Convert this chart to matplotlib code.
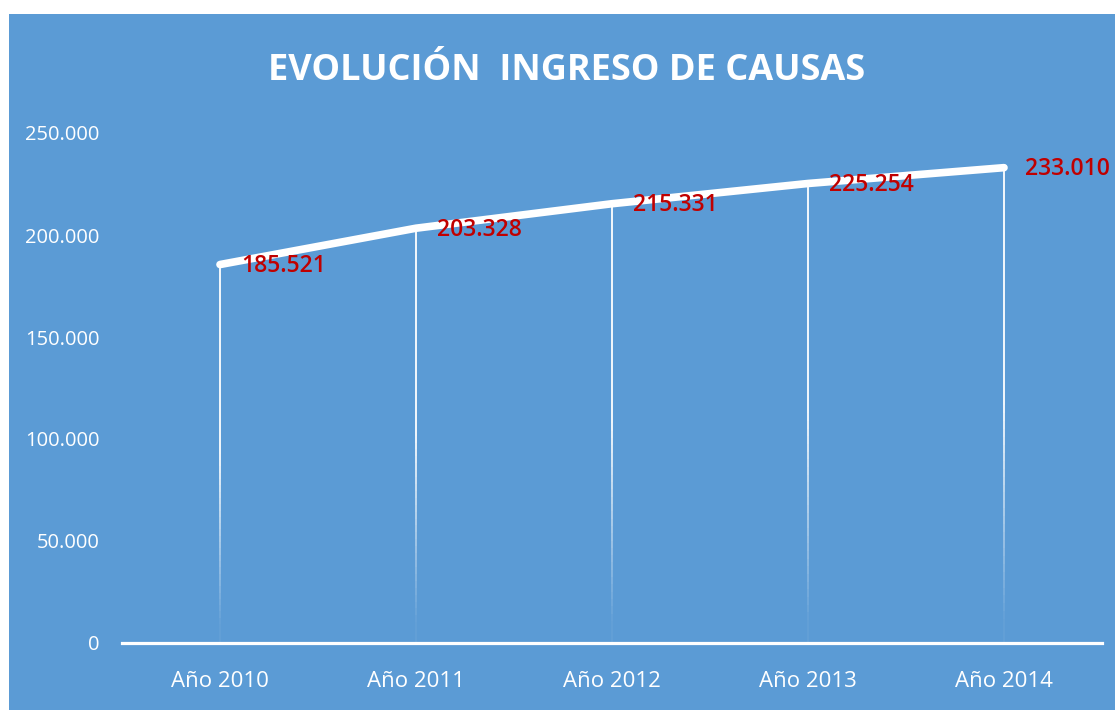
import matplotlib
matplotlib.use("Agg")
import matplotlib.pyplot as plt
import numpy as np
from matplotlib.patches import Rectangle
from matplotlib.collections import LineCollection

categories = ["Año 2010", "Año 2011", "Año 2012", "Año 2013", "Año 2014"]
values = [185521, 203328, 215331, 225254, 233010]
value_labels = ["185.521", "203.328", "215.331", "225.254", "233.010"]
y_ticks = [0, 50000, 100000, 150000, 200000, 250000]
y_tick_labels = ["0", "50.000", "100.000", "150.000", "200.000", "250.000"]
title = "EVOLUCIÓN  INGRESO DE CAUSAS"

W, H = 1115, 710
BLUE = "#5B9BD5"
RED = "#C00000"

fig = plt.figure(figsize=(W / 100, H / 100), dpi=100, facecolor="white")
fig.patches.append(Rectangle((9 / W, 0), 1 - 9 / W, (H - 14) / H,
                             transform=fig.transFigure, facecolor=BLUE,
                             edgecolor="none", zorder=-10))

ax = fig.add_axes([122 / W, (H - 643) / H, (1102 - 122) / W, (643 - 133) / H])
ax.set_zorder(5)
ax.set_facecolor("none")
x = np.arange(len(categories))
ax.set_xlim(-0.5, len(categories) - 0.5)
ax.set_ylim(0, 250000)

# drop lines fading toward the bottom
for xi, v in zip(x, values):
    n = 60
    ys = np.linspace(0, v, n + 1)
    segs = [[(xi, ys[i]), (xi, ys[i + 1])] for i in range(n)]
    frac = (ys[:-1] + ys[1:]) / 2 / v
    alphas = np.clip((frac - 0.05) / 0.45, 0, 1) * 0.95 + 0.05
    cols = [(1, 1, 1, a) for a in alphas]
    ax.add_collection(LineCollection(segs, colors=cols, linewidths=1.3, zorder=2))

ax.plot(x, values, color="white", lw=5.5, solid_capstyle="round", zorder=3)

for xi, v, lab in zip(x, values, value_labels):
    ax.annotate(lab, (xi, v), xytext=(15, -1), textcoords="offset points",
                color=RED, fontsize=16.5, fontweight="semibold", family="Open Sans",
                ha="left", va="center", zorder=4, annotation_clip=False)

for s in ["top", "right", "left"]:
    ax.spines[s].set_visible(False)
ax.spines["bottom"].set_color("white")
ax.spines["bottom"].set_linewidth(2.3)

ax.set_xticks(x)
ax.set_xticklabels(categories, color="white", fontsize=16, family="Open Sans")
ax.set_yticks(y_ticks)
ax.set_yticklabels(y_tick_labels, color="white", fontsize=14.5, family="Open Sans")
ax.tick_params(axis="both", length=0)
ax.tick_params(axis="x", pad=20)
ax.tick_params(axis="y", pad=16)

fig.text(567 / W, 1 - 80 / H, title, color="white", fontsize=26, fontweight="bold",
         family="Open Sans", ha="center", va="baseline")

fig.savefig("out.png", dpi=100, facecolor="white")
